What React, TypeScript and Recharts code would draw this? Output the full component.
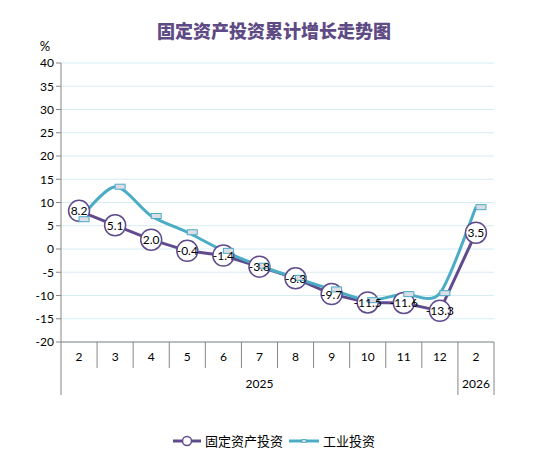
import { LineChart, Line, XAxis, YAxis, CartesianGrid, LabelList } from "recharts";

const months = ["2", "3", "4", "5", "6", "7", "8", "9", "10", "11", "12", "2"];
const years = ["2025", "2025", "2025", "2025", "2025", "2025", "2025", "2025", "2025", "2025", "2025", "2026"];
const fixedInvest = [8.2, 5.1, 2.0, -0.4, -1.4, -3.8, -6.3, -9.7, -11.5, -11.6, -13.3, 3.5];
const industryInvest = [6.4, 13.4, 7.1, 3.6, -0.4, -3.6, -6.2, -8.7, -11.0, -9.7, -9.5, 9.0];
const yTicks = [-20, -15, -10, -5, 0, 5, 10, 15, 20, 25, 30, 35, 40];

const PURPLE = "#604c8d";
const CYAN = "#4bacc6";
const AXIS = "#868686";
const NUM_FONT = "Lato, 'Noto Sans CJK SC', sans-serif";
const CJK_FONT = "'Noto Sans CJK SC', sans-serif";

const W = 548;
const H = 465;
const PLOT_LEFT = 61;
const PLOT_RIGHT = 494;
const PLOT_BOTTOM = 342;
const STEP = (PLOT_RIGHT - PLOT_LEFT) / months.length;

const data = months.map((m, i) => ({
  key: `${years[i]}-${m}`,
  month: m,
  year: years[i],
  fixed: fixedInvest[i],
  industry: industryInvest[i],
}));

// year groups: first index and count
const groups: { year: string; start: number; count: number }[] = [];
years.forEach((y, i) => {
  const last = groups[groups.length - 1];
  if (last && last.year === y) last.count++;
  else groups.push({ year: y, start: i, count: 1 });
});

// Excel-like smoothing (Catmull-Rom through the points)
const smoothCurve = (context: any) => {
  let pts: number[][] = [];
  return {
    areaStart() {},
    areaEnd() {},
    lineStart() {
      pts = [];
    },
    lineEnd() {
      if (!pts.length) return;
      context.moveTo(pts[0][0], pts[0][1]);
      const t = 0.14;
      for (let i = 0; i < pts.length - 1; i++) {
        const p0 = pts[Math.max(0, i - 1)];
        const p1 = pts[i];
        const p2 = pts[i + 1];
        const p3 = pts[Math.min(pts.length - 1, i + 2)];
        context.bezierCurveTo(
          p1[0] + (p2[0] - p0[0]) * t,
          p1[1] + (p2[1] - p0[1]) * t,
          p2[0] - (p3[0] - p1[0]) * t,
          p2[1] - (p3[1] - p1[1]) * t,
          p2[0],
          p2[1]
        );
      }
    },
    point(x: number, y: number) {
      pts.push([+x, +y]);
    },
  };
};

const MonthTick = (props: any) => {
  const { x, payload } = props;
  const i = payload.index;
  const lines = [];
  const groupEdge = groups.some((g) => g.start === i);
  lines.push(
    <line key="l" x1={x - STEP / 2} x2={x - STEP / 2} y1={PLOT_BOTTOM} y2={groupEdge ? 395 : 368} stroke={AXIS} />
  );
  if (i === months.length - 1) {
    lines.push(<line key="r" x1={x + STEP / 2} x2={x + STEP / 2} y1={PLOT_BOTTOM} y2={395} stroke={AXIS} />);
  }
  const g = groups.find((gr) => gr.start + Math.floor((gr.count - 1) / 2) === i);
  let yearX = x;
  if (g && g.count % 2 === 0) yearX = x + STEP / 2;
  return (
    <g>
      {lines}
      <text x={x} y={361} textAnchor="middle" fontSize={12} fontFamily={NUM_FONT} fill="#000">
        {months[i]}
      </text>
      {g && (
        <text x={yearX} y={388} textAnchor="middle" fontSize={12} fontFamily={NUM_FONT} fill="#000">
          {g.year}
        </text>
      )}
    </g>
  );
};

const FixedDot = (props: any) => {
  const { cx, cy, index } = props;
  if (cx == null || cy == null) return null;
  return <circle key={`f-${index}`} cx={cx} cy={cy} r={10.5} fill="#fff" stroke={PURPLE} strokeWidth={1.5} />;
};

const IndustryDot = (props: any) => {
  const { cx, cy, index } = props;
  if (cx == null || cy == null) return null;
  return (
    <rect key={`i-${index}`} x={cx} y={cy - 2.5} width={10} height={5} fill="#dcdde6" stroke={CYAN} strokeWidth={1} />
  );
};

const ValueLabel = (props: any) => {
  const { x, y, value } = props;
  return (
    <text x={x} y={y} dy={4.5} textAnchor="middle" fontSize={12} fontFamily={NUM_FONT} fill="#000">
      {Number(value).toFixed(1)}
    </text>
  );
};

const PercentLabel = (props: any) => {
  const { viewBox } = props;
  return (
    <text x={viewBox.x + viewBox.width - 16} y={viewBox.y - 12} textAnchor="middle" fontSize={13} fontFamily={NUM_FONT} fill="#000">
      %
    </text>
  );
};

export default function App() {
  return (
    <div style={{ position: "absolute", left: 0, top: 0, width: W, height: H, background: "#fff" }}>
      <div
        style={{
          position: "absolute",
          top: 18,
          left: 0,
          width: W,
          textAlign: "center",
          fontFamily: CJK_FONT,
          fontWeight: 900,
          fontSize: 18,
          lineHeight: "24px",
          color: "#5e4a84",
        }}
      >
        固定资产投资累计增长走势图
      </div>
      <LineChart width={W} height={H} data={data} margin={{ top: 63, right: W - PLOT_RIGHT, bottom: 70, left: 0 }}>
        <CartesianGrid horizontal vertical={false} stroke="#d6ecf3" />
        <XAxis
          dataKey="key"
          scale="band"
          height={53}
          interval={0}
          tickLine={false}
          axisLine={{ stroke: AXIS }}
          tick={<MonthTick />}
        />
        <YAxis
          width={PLOT_LEFT}
          domain={[-20, 40]}
          ticks={yTicks}
          interval={0}
          tickSize={5}
          tickLine={{ stroke: AXIS }}
          axisLine={{ stroke: AXIS }}
          tick={{ fontSize: 12, fontFamily: NUM_FONT, fill: "#000" }}
          label={{ content: <PercentLabel /> }}
        />
        <Line
          dataKey="fixed"
          type="linear"
          stroke={PURPLE}
          strokeWidth={3}
          dot={<FixedDot />}
          activeDot={false}
          isAnimationActive={false}
        />
        <Line
          dataKey="industry"
          type={smoothCurve as any}
          stroke={CYAN}
          strokeWidth={3}
          dot={<IndustryDot />}
          activeDot={false}
          isAnimationActive={false}
        />
        <Line dataKey="fixed" stroke="none" dot={false} activeDot={false} isAnimationActive={false}>
          <LabelList dataKey="fixed" content={<ValueLabel />} />
        </Line>
      </LineChart>
      <div
        style={{
          position: "absolute",
          top: 431,
          left: 0,
          width: W,
          display: "flex",
          justifyContent: "center",
          alignItems: "center",
          fontFamily: CJK_FONT,
          fontSize: 13,
          color: "#000",
        }}
      >
        <svg width={28} height={12} style={{ marginRight: 4 }}>
          <line x1={0} x2={28} y1={6} y2={6} stroke={PURPLE} strokeWidth={3} />
          <circle cx={14} cy={6} r={4.5} fill="#fff" stroke={PURPLE} strokeWidth={1.5} />
        </svg>
        <span style={{ marginRight: 6 }}>固定资产投资</span>
        <svg width={30} height={12} style={{ marginRight: 4 }}>
          <line x1={0} x2={30} y1={6} y2={6} stroke={CYAN} strokeWidth={3} />
          <rect x={13} y={4.5} width={4} height={3} fill="#dcdde6" stroke={CYAN} strokeWidth={0.8} />
        </svg>
        <span>工业投资</span>
      </div>
    </div>
  );
}
